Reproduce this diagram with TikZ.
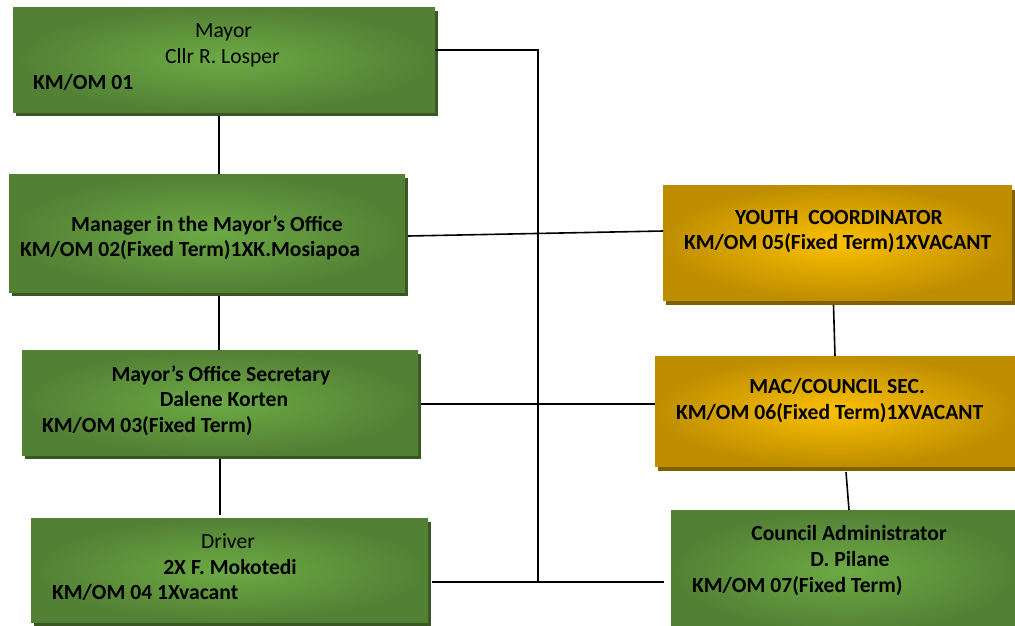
\documentclass[tikz,border=0pt]{standalone}
\usepackage{fontspec}
\setmainfont{Carlito}
\usetikzlibrary{shadows}

\definecolor{gInner}{RGB}{108,170,68}
\definecolor{gOuter}{RGB}{82,128,52}
\definecolor{gShadow}{RGB}{58,88,36}
\definecolor{yInner}{RGB}{252,192,0}
\definecolor{yOuter}{RGB}{190,142,0}
\definecolor{yShadow}{RGB}{128,96,0}

\begin{document}
\begin{tikzpicture}[x=1pt,y=-1pt,
  every node/.style={inner sep=0pt, outer sep=0pt},
  postbox/.style={rectangle, shading=radial, inner color=gInner, outer color=gOuter,
    general shadow={fill=gShadow, shadow xshift=3pt, shadow yshift=-4pt}},
  vacbox/.style={rectangle, shading=radial, inner color=yInner, outer color=yOuter,
    general shadow={fill=yShadow, shadow xshift=3pt, shadow yshift=-5pt}},
  lbl/.style={font=\fontsize{21.6}{25}\selectfont, text=black, anchor=base},
  lblb/.style={lbl, font=\fontsize{21.6}{25}\selectfont\bfseries},
  link/.style={draw=black, line width=1.6pt}]

\useasboundingbox (0,0) rectangle (1015,625);
\clip (0,0) rectangle (1015,625);

% ---- posts ----
\node[postbox, minimum width=422pt, minimum height=105pt] (mayor)     at (224,59.5)  {};
\node[postbox, minimum width=396pt, minimum height=118pt] (manager)   at (207,233)   {};
\node[postbox, minimum width=396pt, minimum height=105pt] (secretary) at (220,402.5) {};
\node[postbox, minimum width=397pt, minimum height=104pt] (driver)    at (229.5,570) {};
\node[vacbox,  minimum width=349pt, minimum height=115pt] (youth)     at (837.5,242.5) {};
\node[vacbox,  minimum width=362pt, minimum height=110pt] (mac)       at (836,411)   {};
\node[postbox, minimum width=349pt, minimum height=122pt] (council)   at (845.5,571) {};

% ---- texts ----
\node[lbl]  (mayorA) at (223.5,37) {Mayor};
\node[lbl]  (mayorB) at (222.5,63) {Cllr R. Losper};
\node[lblb, anchor=base west] (mayorC) at (33,89) {KM/OM 01};

\node[lblb] (manA) at (207,231) {Manager in the Mayor’s Office};
\node[lblb, anchor=base west] (manB) at (20,256) {KM/OM 02(Fixed Term)1XK.Mosiapoa};

\node[lblb] (secA) at (221,381) {Mayor’s Office Secretary};
\node[lblb] (secB) at (224,406) {Dalene Korten};
\node[lblb, anchor=base west] (secC) at (42,432) {KM/OM 03(Fixed Term)};

\node[lbl]  (drvA) at (228,548) {Driver};
\node[lblb] (drvB) at (230,574) {2X F. Mokotedi};
\node[lblb, anchor=base west] (drvC) at (52,599) {KM/OM 04 1Xvacant};

\node[lblb] (youA) at (839,224) {YOUTH\ \ COORDINATOR};
\node[lblb, anchor=base west] (youB) at (684,249) {KM/OM 05(Fixed Term)1XVACANT};

\node[lblb] (macA) at (837,393) {MAC/COUNCIL SEC.};
\node[lblb, anchor=base west] (macB) at (676,419) {KM/OM 06(Fixed Term)1XVACANT};

\node[lblb] (couA) at (849,540) {Council Administrator};
\node[lblb] (couB) at (850,566) {D. Pilane};
\node[lblb, anchor=base west] (couC) at (692,592) {KM/OM 07(Fixed Term)};

% ---- connectors ----
\coordinate (busTop) at (538,50);
\coordinate (busBot) at (538,581);
\draw[link] (mayor.east |- busTop) -- (busTop) -- (busBot);

\draw[link] ([xshift=-5pt,yshift=-4pt]mayor.south) -- ([xshift=-5pt]mayor.south |- manager.north);
\draw[link] ([xshift=12pt,yshift=-4pt]manager.south) -- ([xshift=12pt]manager.south |- secretary.north);
\draw[link] ([yshift=-4pt]secretary.south) -- ([yshift=3pt]secretary.south |- driver.north);

\draw[link] ([xshift=3pt,yshift=-3pt]manager.east) -- ([yshift=11.5pt]youth.west);
\draw[link] ([xshift=3pt,yshift=-1.5pt]secretary.east) -- ([yshift=-1.5pt]mac.west |- secretary.east);
\draw[link] ([xshift=4pt,yshift=-12pt]driver.east) -- ([xshift=-7pt,yshift=-11pt]council.west);

\draw[link] ([xshift=-4pt,yshift=-5pt]youth.south) -- ([xshift=-1pt]mac.north);
\draw[link] ([xshift=10pt,yshift=-6pt]mac.south) -- ([xshift=3.5pt]council.north);
\end{tikzpicture}
\end{document}
